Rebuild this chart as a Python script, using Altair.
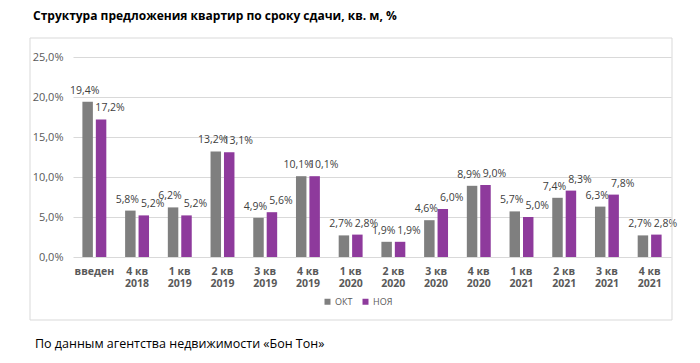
import altair as alt
import pandas as pd

categories = ["введен", "4 кв\n2018", "1 кв\n2019", "2 кв\n2019", "3 кв\n2019", "4 кв\n2019",
              "1 кв\n2020", "2 кв\n2020", "3 кв\n2020", "4 кв\n2020",
              "1 кв\n2021", "2 кв\n2021", "3 кв\n2021", "4 кв\n2021"]
oct_values = [19.4, 5.8, 6.2, 13.2, 4.9, 10.1, 2.7, 1.9, 4.6, 8.9, 5.7, 7.4, 6.3, 2.7]
nov_values = [17.2, 5.2, 5.2, 13.1, 5.6, 10.1, 2.8, 1.9, 6.0, 9.0, 5.0, 8.3, 7.8, 2.8]
series = ["ОКТ", "НОЯ"]
colors = ["#7f7f7f", "#8e3a9c"]
y_ticks = [0, 5, 10, 15, 20, 25]
title_text = "Структура предложения квартир по сроку сдачи, кв. м, %"
footer_text = "По данным агентства недвижимости «Бон Тон»"

rows = []
for c, o, n in zip(categories, oct_values, nov_values):
    rows.append({"cat": c, "series": series[0], "value": o})
    rows.append({"cat": c, "series": series[1], "value": n})
df = pd.DataFrame(rows)
df["label"] = df["value"].map(lambda v: f"{v:.1f}%".replace(".", ","))

FONT = "Open Sans"

x_enc = alt.X("cat:N", sort=categories, title=None,
              scale=alt.Scale(paddingInner=0.44, paddingOuter=0.22),
              axis=alt.Axis(labelExpr="split(datum.value, '\\n')", labelAngle=0,
                            labelFontWeight="bold", labelFontSize=10.5, labelColor="#595959",
                            labelLineHeight=12.5, labelPadding=9, domain=False, ticks=False,
                            labelFont=FONT, labelOverlap=False))
xoff = alt.XOffset("series:N", sort=series, scale=alt.Scale(paddingInner=0.22))
y_enc = alt.Y("value:Q", title=None,
              scale=alt.Scale(domain=[0, 25], nice=False),
              axis=alt.Axis(values=y_ticks, labelExpr="replace(format(datum.value, '.1f'), '.', ',') + '%'",
                            labelFontSize=11, labelColor="#595959", labelPadding=10,
                            labelOverlap=False, labelFlush=False,
                            domain=False, ticks=False, gridColor="#d9d9d9", labelFont=FONT))
color_enc = alt.Color("series:N", sort=series,
                      scale=alt.Scale(domain=series, range=colors),
                      legend=alt.Legend(orient="none", legendX=250, legendY=240, direction="horizontal",
                                        title=None, symbolType="square", symbolSize=36,
                                        symbolStrokeWidth=0, labelFontSize=9, labelColor="#595959",
                                        labelFont=FONT, columnPadding=8, labelOffset=3))

base = alt.Chart(df)
bars = base.mark_bar().encode(x=x_enc, xOffset=xoff, y=y_enc, color=color_enc)

lab_oct = base.transform_filter(alt.datum.series == series[0]).mark_text(
    baseline="bottom", dy=-6, dx=-3, fontSize=10.5, color="#404040", font=FONT
).encode(x=x_enc, xOffset=xoff, y=y_enc, text="label:N")
lab_nov = base.transform_filter(alt.datum.series == series[1]).mark_text(
    baseline="bottom", dy=-6, dx=9, fontSize=10.5, color="#404040", font=FONT
).encode(x=x_enc, xOffset=xoff, y=y_enc, text="label:N")

frame = alt.Chart(pd.DataFrame({"a": [0]})).mark_rect(
    fill=None, stroke="#d9d9d9", strokeWidth=1
).encode(x=alt.value(-43), x2=alt.value(599), y=alt.value(-19), y2=alt.value(263))

title = alt.Chart(pd.DataFrame({"t": [title_text]})).mark_text(
    align="left", baseline="middle", fontSize=12, fontWeight="bold", color="#000000", font=FONT
).encode(text="t:N", x=alt.value(-40), y=alt.value(-41))

footer = alt.Chart(pd.DataFrame({"t": [footer_text]})).mark_text(
    align="left", baseline="middle", fontSize=12.5, color="#000000", font=FONT
).encode(text="t:N", x=alt.value(-38), y=alt.value(287))

chart = alt.layer(bars, lab_oct, lab_nov, frame, title, footer).properties(
    width=598, height=200,
    autosize=alt.AutoSizeParams(type="none"),
    padding={"left": 65, "top": 49, "right": 21, "bottom": 96},
    background="#ffffff",
).configure_view(stroke=None)

chart.save("out.html", embed_options={"renderer": "svg", "actions": False})
